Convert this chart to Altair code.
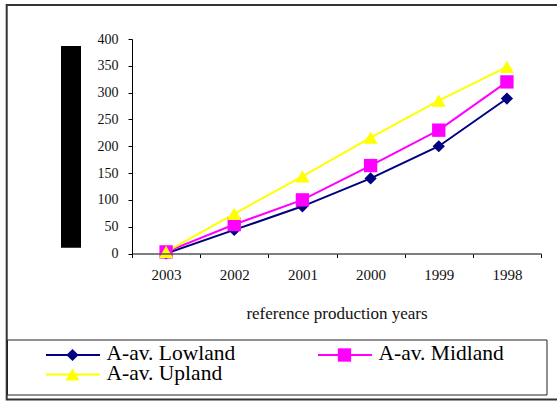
import altair as alt
import pandas as pd

# Reference production years (plotted newest to oldest)
years = ["2003", "2002", "2001", "2000", "1999", "1998"]

# Averaged values per altitude zone
lowland = [0, 44, 88, 140, 200, 289]
midland = [3, 54, 100, 164, 230, 320]
upland = [3, 74, 144, 216, 285, 348]

series_names = ["A-av. Lowland", "A-av. Midland", "A-av. Upland"]
series_colors = ["#000080", "#FF00FF", "#FFFF00"]
series_shapes = ["diamond", "square", "triangle-up"]
series_sizes = [150, 178, 200]

rows = []
for name, vals in zip(series_names, [lowland, midland, upland]):
    for y, v in zip(years, vals):
        rows.append({"year": y, "value": v, "series": name})
df = pd.DataFrame(rows)

FONT = "Liberation Serif, Times New Roman, serif"
W, H = 409, 214.5
PAD_L, PAD_T = 132, 39

x_enc = alt.X(
    "year:O",
    sort=years,
    scale=alt.Scale(type="band", paddingInner=0, paddingOuter=0),
    bandPosition=0.5,
    axis=alt.Axis(
        title="reference production years",
        labelAngle=0,
        labelFont=FONT,
        labelFontSize=15,
        labelColor="#111",
        labelPadding=10,
        tickBand="extent",
        tickSize=4,
        tickColor="#000",
        domainColor="#555",
        domainWidth=1.5,
        titleFont=FONT,
        titleFontSize=17,
        titleFontWeight="normal",
        titleColor="#111",
        titlePadding=23,
        zindex=1,
    ),
)
y_enc = alt.Y(
    "value:Q",
    scale=alt.Scale(domain=[0, 400]),
    axis=alt.Axis(
        values=list(range(0, 401, 50)),
        title=None,
        grid=False,
        labelFont=FONT,
        labelFontSize=14,
        labelColor="#111",
        labelPadding=10,
        tickSize=4,
        tickColor="#000",
        domainColor="#000",
        zindex=1,
    ),
)
color_enc = alt.Color(
    "series:N",
    scale=alt.Scale(domain=series_names, range=series_colors),
    legend=None,
)

base = alt.Chart(df)
lines = base.mark_line(strokeWidth=2).encode(x=x_enc, y=y_enc, color=color_enc)
points = [
    base.transform_filter(alt.datum.series == name)
    .mark_point(filled=True, shape=shape, size=size, opacity=1)
    .encode(x=x_enc, y=y_enc, color=alt.value(col))
    for name, col, shape, size in zip(series_names, series_colors, series_shapes, series_sizes)
]

one = alt.Data(values=[{}])

# Outer frame around the whole figure
frame = alt.Chart(one).mark_rect(fill=None, stroke="#333", strokeWidth=2).encode(
    x=alt.value(6.7 - PAD_L), x2=alt.value(575 - PAD_L),
    y=alt.value(5 - PAD_T), y2=alt.value(399.5 - PAD_T),
)
# Black bar in place of the axis title
bar = alt.Chart(one).mark_rect(fill="black").encode(
    x=alt.value(61 - PAD_L), x2=alt.value(81 - PAD_L),
    y=alt.value(46 - PAD_T), y2=alt.value(247.7 - PAD_T),
)
# Legend box
legend_box = alt.Chart(one).mark_rect(fill=None, stroke="#222", strokeWidth=1).encode(
    x=alt.value(7.5 - PAD_L), x2=alt.value(547 - PAD_L),
    y=alt.value(340 - PAD_T), y2=alt.value(395 - PAD_T),
)

legend_pos = [(46, 355), (318, 355), (46, 374.5)]
legend_layers = []
for (lx, ly), name, col, shape, size in zip(legend_pos, series_names, series_colors, series_shapes, series_sizes):
    legend_layers.append(
        alt.Chart(one).mark_rule(strokeWidth=2, color=col).encode(
            x=alt.value(lx - PAD_L), x2=alt.value(lx + 54 - PAD_L),
            y=alt.value(ly - PAD_T),
        )
    )
    legend_layers.append(
        alt.Chart(one).mark_point(filled=True, shape=shape, size=size, color=col, opacity=1).encode(
            x=alt.value(lx + 26.5 - PAD_L), y=alt.value(ly - PAD_T),
        )
    )
    legend_layers.append(
        alt.Chart(one).mark_text(
            text=name, font=FONT, fontSize=21.5, align="left", baseline="middle", color="#000"
        ).encode(x=alt.value(lx + 60.5 - PAD_L), y=alt.value(ly - 1 - PAD_T))
    )

chart = alt.layer(frame, bar, legend_box, lines, *points, *legend_layers).properties(
    width=W,
    height=H,
    padding={"left": PAD_L, "top": PAD_T, "right": 557 - PAD_L - W, "bottom": 403 - PAD_T - H},
    autosize=alt.AutoSizeParams(type="none"),
    background="white",
).configure_view(stroke=None)

chart.save("out.html", embed_options={"renderer": "svg", "actions": False})
